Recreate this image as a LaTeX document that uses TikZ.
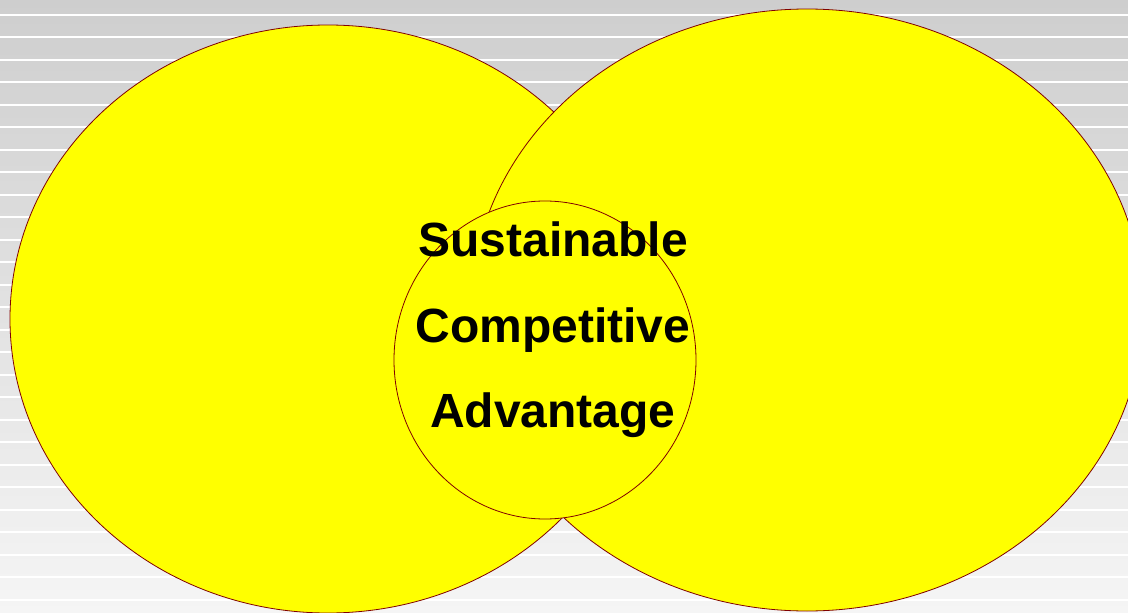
\documentclass[tikz,border=0pt]{standalone}
\usepackage{fontspec}
\setmainfont{Liberation Sans}
\definecolor{bgtop}{RGB}{206,206,206}
\definecolor{bgbot}{RGB}{245,245,245}
\definecolor{rim}{RGB}{128,0,0}
\definecolor{lemon}{RGB}{255,255,0}
\begin{document}
\begin{tikzpicture}[x=1pt,y=-1pt,
  blob/.style={draw=rim,fill=lemon,line width=0.8pt},
  stripe/.style={draw=white,line width=1.7pt},
  word/.style={anchor=base,inner sep=0pt,font=\fontsize{48}{50}\selectfont\bfseries}]
\useasboundingbox (0,0) rectangle (1128,613);
\shade[top color=bgtop,bottom color=bgbot] (0,0) rectangle (1128,613);
\foreach \k in {0,...,26}{
  \draw[stripe] (0,{14.7+22.5*\k}) -- (1128,{14.7+22.5*\k});
}
\draw[blob] (328,319) ellipse [x radius=318, y radius=294];
\draw[blob] (807,310) ellipse [x radius=336, y radius=301];
\draw[blob] (545,360) ellipse [x radius=151, y radius=159];
\node[word] (w1) at (553,256) {Sustainable};
\node[word] (w2) at (553,342) {Competitive};
\node[word] (w3) at (553,427) {Advantage};
\end{tikzpicture}
\end{document}
